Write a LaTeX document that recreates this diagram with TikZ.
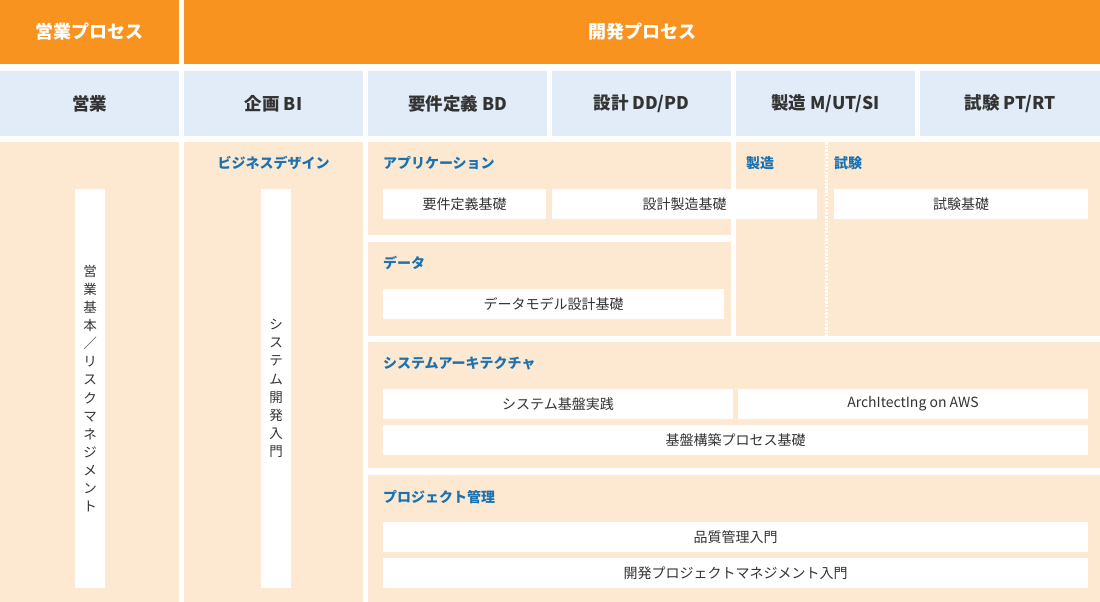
\documentclass[tikz,border=0pt]{standalone}
\usepackage{fontspec}
\setmainfont{Noto Sans CJK JP}
\definecolor{orng}{HTML}{F8931F}
\definecolor{lblue}{HTML}{E1ECF8}
\definecolor{beige}{HTML}{FDE9D2}
\definecolor{labelblue}{HTML}{1B72B0}
\definecolor{darktext}{HTML}{333333}
\newcommand\mkcell[7]{%
  \node[#2, anchor=north west, minimum width={(#5-#3)*1pt}, minimum height={(#6-#4)*1pt}] (#1) at (#3,#4) {#7};}
\begin{document}
\begin{tikzpicture}[x=1pt,y=-1pt,
  cellbase/.style={inner sep=0pt, outer sep=0pt, draw=none},
  hdr/.style={cellbase, fill=orng, text=white, font=\fontsize{18}{20}\selectfont\bfseries},
  phase/.style={cellbase, fill=lblue, text=darktext, font=\fontsize{17.5}{20}\selectfont\bfseries},
  area/.style={cellbase, fill=beige},
  course/.style={cellbase, fill=white, text=darktext, font=\fontsize{14}{16}\selectfont},
  vcourse/.style={cellbase, fill=white, text=darktext, align=center, font=\fontsize{13.5}{18.1}\selectfont},
  lbl/.style={inner sep=0pt, outer sep=0pt, text=labelblue, font=\fontsize{14}{16}\selectfont\bfseries},
  sep/.style={white, line width=3pt, dash pattern=on 2.5pt off 1.2pt}]
\useasboundingbox (0,0) rectangle (1100,602);
% header row
\mkcell{hsales}{hdr}{0}{0}{179}{64}{営業プロセス}
\mkcell{hdev}{hdr}{184}{0}{1100}{64}{開発プロセス}
% phase row
\mkcell{p1}{phase}{0}{71}{179}{136}{営業}
\mkcell{p2}{phase}{184}{71}{363}{136}{企画 BI}
\mkcell{p3}{phase}{368}{71}{547}{136}{要件定義 BD}
\mkcell{p4}{phase}{552}{71}{731}{136}{設計 DD/PD}
\mkcell{p5}{phase}{736}{71}{915}{136}{製造 M/UT/SI}
\mkcell{p6}{phase}{920}{71}{1100}{136}{試験 PT/RT}
% areas
\mkcell{asales}{area}{0}{142}{179}{602}{}
\mkcell{abiz}{area}{184}{142}{363}{602}{}
\mkcell{aapp}{area}{368}{142}{731}{235}{}
\mkcell{adata}{area}{368}{242}{731}{336}{}
\mkcell{amfg}{area}{736}{142}{1100}{336}{}
\mkcell{aarch}{area}{368}{342}{1100}{468}{}
\mkcell{aproj}{area}{368}{475}{1100}{602}{}
\coordinate (septop) at (826,142);
\coordinate (sepbot) at (826,336);
\draw[sep] (septop) -- (sepbot);
% labels
\node[lbl] (lbiz) at (273.5,163) {ビジネスデザイン};
\node[lbl, anchor=west] (lapp) at (383,163) {アプリケーション};
\node[lbl, anchor=west] (ldata) at (383,263) {データ};
\node[lbl, anchor=west] (lmfg) at (746,163) {製造};
\node[lbl, anchor=west] (ltest) at (834,163) {試験};
\node[lbl, anchor=west] (larch) at (383,363) {システムアーキテクチャ};
\node[lbl, anchor=west] (lproj) at (383,497) {プロジェクト管理};
% courses
\mkcell{csales}{vcourse}{75}{189}{105}{588}{営\\業\\基\\本\\／\\リ\\ス\\ク\\マ\\ネ\\ジ\\メ\\ン\\ト}
\mkcell{csys}{vcourse}{261}{189}{291}{588}{シ\\ス\\テ\\ム\\開\\発\\入\\門}
\mkcell{creq}{course}{383}{189}{546}{219}{要件定義基礎}
\mkcell{cdes}{course}{552}{189}{817}{219}{設計製造基礎}
\mkcell{ctest}{course}{834}{189}{1088}{219}{試験基礎}
\mkcell{cdm}{course}{383}{289}{724}{319}{データモデル設計基礎}
\mkcell{cinf}{course}{383}{389}{733}{419}{システム基盤実践}
\mkcell{caws}{course}{738}{389}{1088}{419}{ArchItectIng on AWS}
\mkcell{cbase}{course}{383}{425}{1088}{455}{基盤構築プロセス基礎}
\mkcell{cqual}{course}{383}{522}{1088}{552}{品質管理入門}
\mkcell{cpm}{course}{383}{558}{1088}{588}{開発プロジェクトマネジメント入門}
\end{tikzpicture}
\end{document}
